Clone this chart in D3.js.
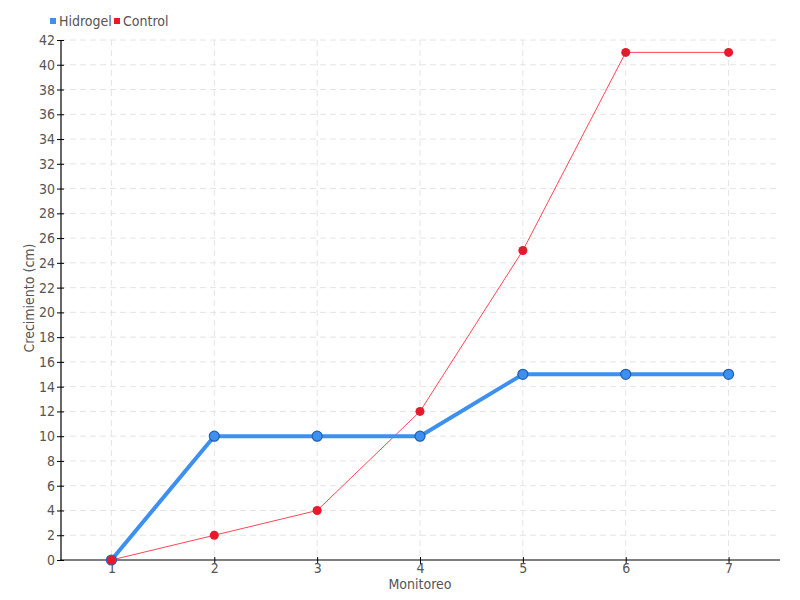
<!DOCTYPE html>
<html><head><meta charset="utf-8">
<script src="https://cdn.jsdelivr.net/npm/d3@7"></script>
<style>
body{margin:0;background:#fff;}
text{font-family:"DejaVu Sans Condensed","DejaVu Sans",sans-serif;font-stretch:condensed;}
</style></head>
<body><svg id="c" width="800" height="600"></svg>
<script>
const categories=[1,2,3,4,5,6,7];
const hidrogel=[0,10,10,10,15,15,15];
const control=[0,2,4,12,25,41,41];
const yTicks=d3.range(0,43,2);
const seriesNames=["Hidrogel","Control"];
const colors={Hidrogel:"#3d8ff0",Control:"#e8192c"};

const svg=d3.select("#c");
const x=d3.scaleLinear().domain([0.5,7.5]).range([60,780]);
const y=d3.scaleLinear().domain([0,42]).range([560,40]);

const grid=svg.append("g");
grid.selectAll(".h").data(yTicks.slice(1)).enter().append("line")
 .attr("x1",60).attr("x2",780).attr("y1",d=>y(d)).attr("y2",d=>y(d))
 .attr("stroke","#e4e4e4").attr("stroke-dasharray","6,4");
grid.selectAll(".v").data(categories).enter().append("line")
 .attr("x1",d=>x(d)).attr("x2",d=>x(d)).attr("y1",40).attr("y2",560)
 .attr("stroke","#e4e4e4").attr("stroke-dasharray","6,4");

const yAxis=svg.append("g").attr("transform","translate(61,0)")
 .call(d3.axisLeft(y).tickValues(yTicks).tickFormat(d3.format("d")).tickSize(4).tickSizeOuter(0).tickPadding(2));
yAxis.selectAll(".tick line").attr("x2",-4).attr("x1",3);
const xAxis=svg.append("g").attr("transform","translate(0,560)")
 .call(d3.axisBottom(x).tickValues(categories).tickFormat(d3.format("d")).tickSize(4).tickSizeOuter(0).tickPadding(-1));
xAxis.selectAll(".tick line").attr("y1",-3).attr("y2",4);
[yAxis,xAxis].forEach(a=>{
 a.select(".domain").attr("stroke","#000").attr("stroke-width",1.2);
 a.selectAll(".tick line").attr("stroke","#000");
 a.selectAll("text").attr("fill","#555").style("font-size","14px");
});
xAxis.select(".domain").attr("d","M60,0H780");
yAxis.select(".domain").attr("d","M0,40V560");

const line=d3.line().x((d,i)=>x(categories[i])).y(d=>y(d));
svg.append("path").datum(control).attr("d",line).attr("fill","none")
 .attr("stroke","#ff4655").attr("stroke-width",1);
svg.append("path").datum(hidrogel).attr("d",line).attr("fill","none")
 .attr("stroke","#3d8ff0").attr("stroke-width",4);
svg.selectAll(".hp").data(hidrogel).enter().append("circle")
 .attr("cx",(d,i)=>x(categories[i])).attr("cy",d=>y(d)).attr("r",5)
 .attr("fill","#3d8ff0").attr("stroke","#1f5fb0").attr("stroke-width",1.2);
svg.selectAll(".cp").data(control).enter().append("circle")
 .attr("cx",(d,i)=>x(categories[i])).attr("cy",d=>y(d)).attr("r",4.5)
 .attr("fill","#e8192c");

svg.append("text").attr("x",420).attr("y",589).attr("text-anchor","middle")
 .attr("fill","#555").style("font-size","14px").text("Monitoreo");
svg.append("text").attr("transform","translate(34,298) rotate(-90)").attr("text-anchor","middle")
 .attr("fill","#555").style("font-size","14px").text("Crecimiento (cm)");

const leg=svg.append("g");
const lx=[50,114];
seriesNames.forEach((s,i)=>{
 leg.append("rect").attr("x",lx[i]).attr("y",18).attr("width",6).attr("height",6).attr("fill",colors[s]);
 leg.append("text").attr("x",lx[i]+9).attr("y",26).attr("fill","#555").style("font-size","14px").text(s);
});
</script></body></html>
